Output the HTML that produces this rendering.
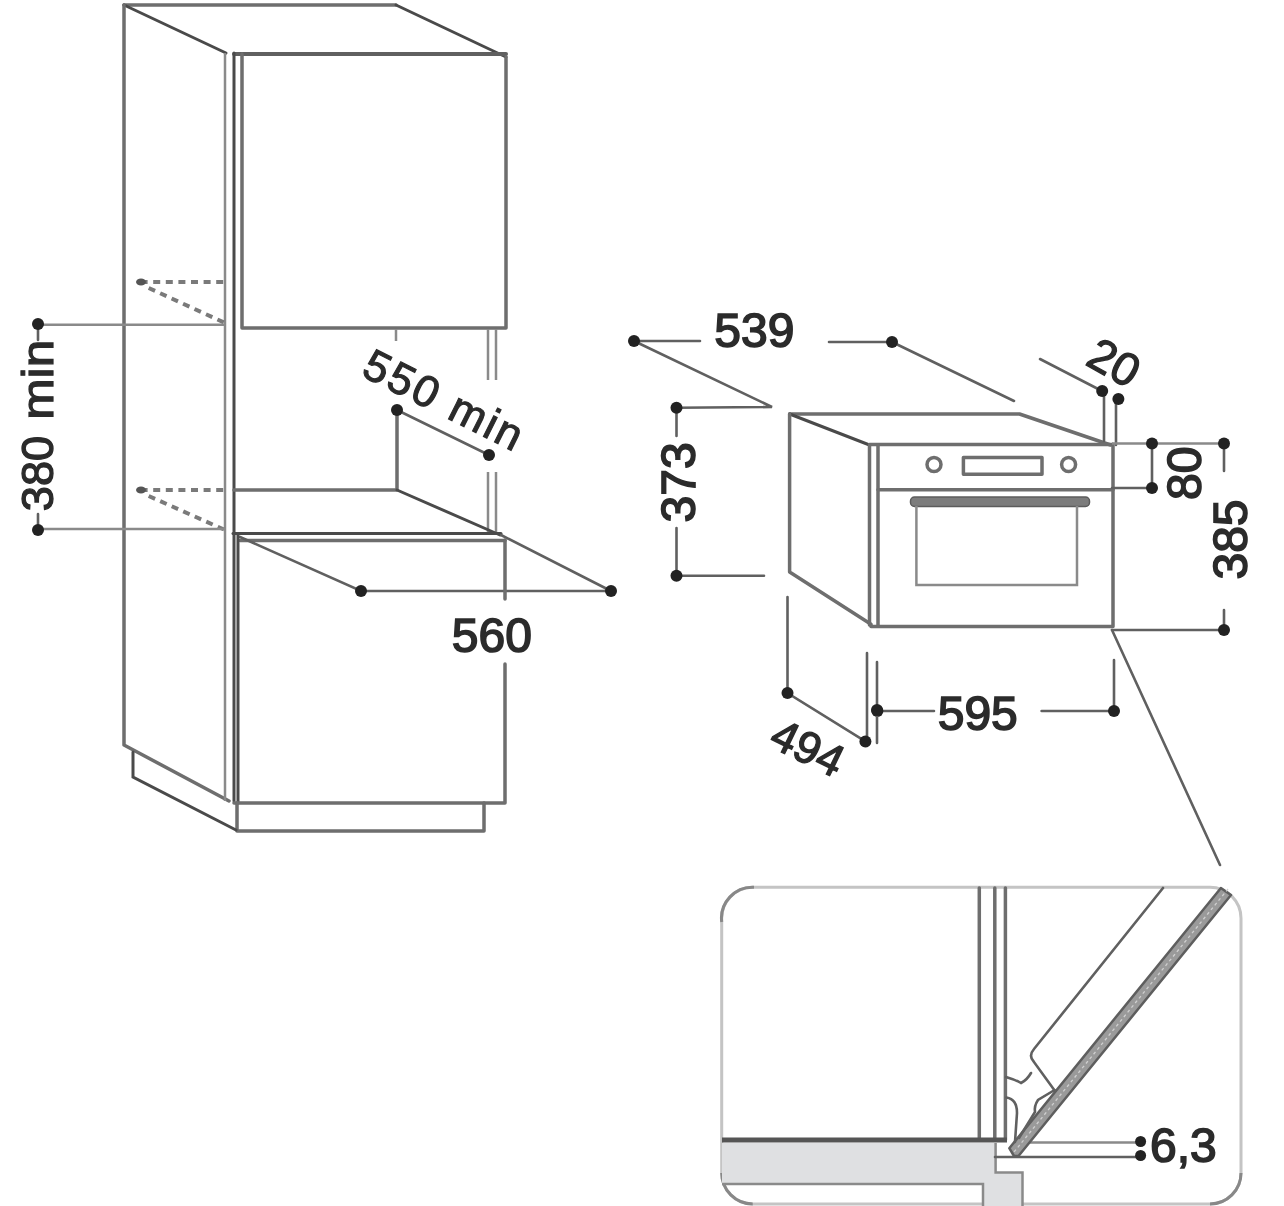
<!DOCTYPE html>
<html><head><meta charset="utf-8">
<style>
html,body{margin:0;padding:0;background:#fff;width:1284px;height:1206px;overflow:hidden}
svg{display:block;filter:blur(0.55px)}
text{font-family:"Liberation Sans",sans-serif;font-size:48px;fill:#2b2b2b;stroke:#2b2b2b;stroke-width:1.6}
.m{stroke:#6e6e6e;stroke-width:3.5;fill:none;stroke-linecap:round;stroke-linejoin:round}
.d{stroke:#4a4a4a;stroke-width:3;fill:none;stroke-linecap:round}
.l{stroke:#8a8a8a;stroke-width:2.5;fill:none}
.t{stroke:#606060;stroke-width:2.6;fill:none;stroke-linecap:round}
.dash{stroke:#7a7a7a;stroke-width:4;fill:none;stroke-dasharray:7 5.6;stroke-dashoffset:0}
</style></head>
<body>
<svg width="1284" height="1206" viewBox="0 0 1284 1206">
<!-- ===== LEFT CABINET ===== -->
<g id="cab">
  <!-- top face -->
  <path class="m" d="M124 5 L396 5"/>
  <path class="d" d="M396 5 L506 57"/>
  <path class="d" d="M124 5 L226 53"/>
  <path class="m" d="M234 54 L506 54" style="stroke-width:4;stroke:#606060"/>
  <!-- side panel -->
  <path class="m" d="M124 5 L124 745 L229 801"/>
  <path class="l" d="M225 53 L225 801"/>
  <path class="d" d="M234 53 L234 801"/>
  <!-- upper door -->
  <path class="m" d="M242 54 L242 328 L506 328 L506 57"/>
  <path class="l" d="M396 329 L396 341"/>
  <path class="l" d="M488 329 L488 380 M496 329 L496 380 M488 472 L488 532 M496 472 L496 532"/>
  <!-- dotted -->
  <path class="dash" d="M140.6 282 L226 282 M148.7 288 L224 322.5"/>
  <path class="dash" d="M140.6 490 L226 490 M148.7 496 L224 529.5"/>
  <ellipse cx="141" cy="282" rx="5" ry="3.5" fill="#555"/>
  <ellipse cx="141" cy="490" rx="5" ry="3.5" fill="#555"/>
  <!-- 380 dim -->
  <path class="l" d="M38 324.7 L226 324.7 M38 529 L226 529"/>
  <path class="t" d="M38 324 L38 340 M38 514 L38 530"/>
  <circle cx="38" cy="324" r="6" fill="#222"/>
  <circle cx="38" cy="530" r="6" fill="#222"/>
  <text transform="translate(53.2 473.5) rotate(-90)" text-anchor="middle" textLength="75.5" lengthAdjust="spacingAndGlyphs" style="font-size:45px;stroke-width:1.3">380</text>
  <text transform="translate(53.2 379.75) rotate(-90)" text-anchor="middle" textLength="80" lengthAdjust="spacingAndGlyphs" style="font-size:44px;stroke-width:1.2">min</text>
  <!-- shelf / 550 -->
  <path class="m" d="M234 490 L397 490 L397 410"/>
  <path class="d" d="M397 490 L500 535"/>
  <path class="t" d="M397 410 L489 455"/>
  <circle cx="397" cy="410" r="6" fill="#222"/>
  <circle cx="489" cy="455" r="6" fill="#222"/>
  <text transform="translate(443.5 400) rotate(26.5) translate(0 15)" text-anchor="middle" style="font-size:44px;stroke-width:1.1" textLength="172" lengthAdjust="spacing">550 min</text>
  <!-- lower cabinet top -->
  <path class="d" d="M233 533.5 L501 533.5"/>
  <path class="m" d="M240 540.5 L505 540.5"/>
  <path class="t" d="M240 537 L361 591 L611 591 L501 535"/>
  <circle cx="361" cy="591" r="6" fill="#222"/>
  <circle cx="611" cy="591" r="6" fill="#222"/>
  <!-- lower door -->
  <path class="d" d="M238 534 L238 803"/>
  <path class="m" d="M505 540 L505 599 M505 664 L505 803 L234 803"/>
  <text x="491.8" y="652" text-anchor="middle">560</text>
  <!-- plinth -->
  <path class="m" d="M237 803 L237 831 L484 831 L484 803"/>
  <path class="d" d="M133 752 L133 777 L236 830"/>
</g>

<!-- ===== OVEN ===== -->
<g id="oven">
  <path class="m" d="M789.6 414 L1019.5 414 L1110.6 445"/>
  <path class="d" d="M789.6 414 L869.5 445"/>
  <path class="m" d="M869.5 444.5 L1113 444.5 L1113 626.5 L871 626.5"/>
  <path class="m" d="M789.6 414 L789.6 572 L871 624.3"/>
  <path class="m" d="M869.5 445 L869.5 625 M878 445 L878 625"/>
  <path class="m" d="M878 489.7 L1113 489.7"/>
  <circle cx="934" cy="464.5" r="7" class="m"/>
  <circle cx="1068.6" cy="464.5" r="7" class="m"/>
  <rect x="963.4" y="457.5" width="78.6" height="16.8" class="m"/>
  <rect x="910.5" y="497" width="179" height="9.5" rx="4" fill="#7c7c7c" stroke="#5c5c5c" stroke-width="1.5"/>
  <path class="l" d="M916.4 506 L916.4 585 L1077 585 L1077 506"/>
</g>

<!-- ===== DIMENSIONS RIGHT ===== -->
<g id="dims">
  <!-- 539 -->
  <path class="t" d="M634 341 L700 341 M829 342 L892 342 M634 341 L772 407 L676 407.7 M892 342 L1014 401"/>
  <circle cx="634" cy="341" r="6" fill="#222"/>
  <circle cx="892" cy="342" r="6" fill="#222"/>
  <text x="754.4" y="346.5" text-anchor="middle">539</text>
  <!-- 373 -->
  <path class="t" d="M676.5 407.7 L676.5 436 M676.5 528 L676.5 575.7 L764 575.7"/>
  <circle cx="676.5" cy="407.7" r="6" fill="#222"/>
  <circle cx="676.5" cy="575.7" r="6" fill="#222"/>
  <text transform="translate(694.5 482.4) rotate(-90)" text-anchor="middle">373</text>
  <!-- 20 -->
  <path class="t" d="M1040 359 L1102 391 M1104 391 L1104 441 M1116 399 L1116 445"/>
  <circle cx="1102.2" cy="391" r="6" fill="#222"/>
  <circle cx="1118.4" cy="399" r="6" fill="#222"/>
  <text transform="translate(1114.2 362.5) rotate(29) translate(0 16)" text-anchor="middle" style="font-size:46px;stroke-width:1.3">20</text>
  <!-- 80 -->
  <path class="l" d="M1112 443.5 L1224 443.5"/>
  <path class="t" d="M1112 488 L1152 488 L1152 443.5 M1224 443.5 L1224 471"/>
  <circle cx="1152" cy="443.5" r="6" fill="#222"/>
  <circle cx="1224" cy="443.5" r="6" fill="#222"/>
  <circle cx="1152" cy="488" r="6" fill="#222"/>
  <text transform="translate(1201 473.2) rotate(-90)" text-anchor="middle">80</text>
  <!-- 385 -->
  <path class="t" d="M1112 630 L1224 630 L1224 610"/>
  <circle cx="1224" cy="630" r="6" fill="#222"/>
  <text transform="translate(1246.5 539.5) rotate(-90)" text-anchor="middle">385</text>
  <!-- 595 -->
  <path class="t" d="M877.4 711 L934 711 M1041.6 711 L1114 711 L1114 660"/>
  <circle cx="877.4" cy="711" r="6" fill="#222"/>
  <circle cx="1114" cy="711" r="6" fill="#222"/>
  <text x="977.75" y="729.5" text-anchor="middle">595</text>
  <!-- 494 -->
  <path class="t" d="M787.5 597 L787.5 693 L865.4 741.4 M867 653 L867 746 M877 662 L877 743"/>
  <circle cx="787.5" cy="693" r="6" fill="#222"/>
  <circle cx="865.4" cy="741.4" r="6" fill="#222"/>
  <circle cx="877" cy="710" r="6" fill="#222"/>
  <text transform="translate(808.1 747.4) rotate(26) translate(0 16)" text-anchor="middle" style="font-size:45px;stroke-width:1.3">494</text>
  <!-- callout -->
  <path class="t" d="M1112 630 L1220 865"/>
</g>

<!-- ===== DETAIL BOX ===== -->
<g id="detail">
  <rect x="721.7" y="887.3" width="519.3" height="316.7" rx="31" fill="none" stroke="#c4c4c4" stroke-width="3"/>
  <path fill="none" stroke="#888" stroke-width="3" d="M721.7 922 A31 31 0 0 1 754 887.3 M1210 1204 A31 31 0 0 0 1241 1173 M721.7 1173 A31 31 0 0 0 752.7 1204"/>
  <path fill="#dfe0e2" d="M722 1143 L995.6 1143 L995.6 1172.5 L1022.5 1172.5 L1022.5 1206 L983 1206 L983 1184 L722 1184 Z"/>
  <path class="l" d="M722 1184 L983 1184 L983 1206 M995.6 1143 L995.6 1172.5 L1022.5 1172.5 L1022.5 1206"/>
  <path class="m" d="M979.3 888 L979.3 1140 M994.8 888 L994.8 1140 M1005.4 888 L1005.4 1140"/>
  <path stroke="#555" stroke-width="5" d="M722 1140 L1007 1140"/>
  <path class="l" d="M1030 1142.5 L1140 1142.5"/>
  <path class="t" d="M995 1157 L1140 1157"/>
  <circle cx="1140.6" cy="1141.5" r="5.5" fill="#222"/>
  <circle cx="1140.6" cy="1155.5" r="5.5" fill="#222"/>
  <text x="1150" y="1162">6,3</text>
  <!-- door -->
  <path fill="#9a9a9a" stroke="#5e5e5e" stroke-width="2.5" stroke-linejoin="round" d="M1220.9 888 L1009.3 1148.2 L1014 1156 L1018.7 1155.8 L1231 895 Z"/>
  <path stroke="#d0d0d0" stroke-width="1.3" stroke-dasharray="3 3" d="M1228 889 L1014 1152"/>
  <!-- handle frame -->
  <path class="t" d="M1163 888 L1034 1049 Q1028 1056 1034 1062 L1055 1091"/>
  <path class="t" d="M1006 1077 Q1016 1080 1021 1083 Q1027 1080 1031 1073"/>
  <path class="t" d="M1006.5 1097.5 Q1017 1099 1017 1113 L1015 1142"/>
  <path class="t" d="M1054.6 1090 L1038 1100 Q1034 1106 1035 1112 L1019 1138"/>
</g>
</svg>
</body></html>
